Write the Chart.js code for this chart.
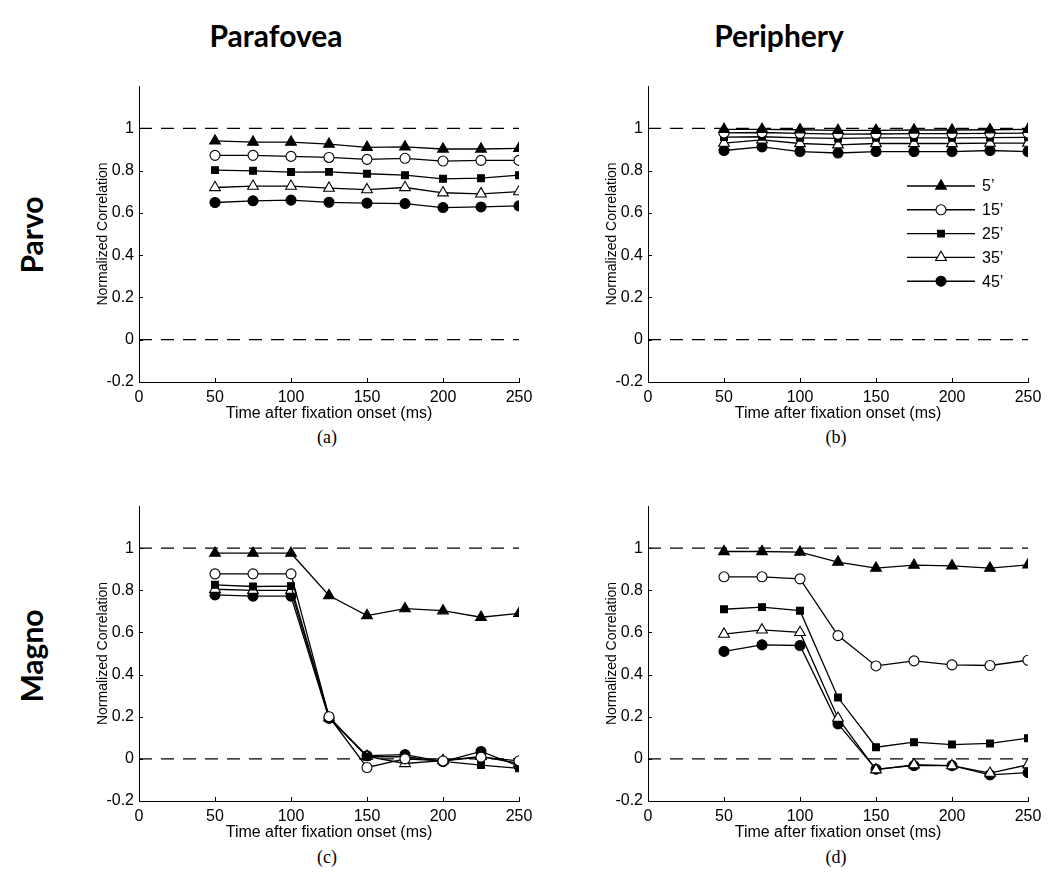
<!DOCTYPE html>
<html><head><meta charset="utf-8">
<script src="https://cdn.jsdelivr.net/npm/chart.js@4.4.1/dist/chart.umd.min.js"></script>
<style>
body{margin:0;background:#fff;width:1049px;height:884px;position:relative;overflow:hidden;font-family:"Liberation Sans",Arial,sans-serif;color:#000}
canvas{position:absolute}
.c{position:absolute;transform:translate(-50%,-50%);white-space:nowrap;line-height:1}
.r{position:absolute;transform:translate(-50%,-50%) rotate(-90deg);white-space:nowrap;line-height:1}
.head{font-family:Lato,"Noto Sans",sans-serif;font-weight:700;font-size:30px}
.cap{font-family:"Liberation Serif","DejaVu Serif",serif;font-size:18px}
</style></head><body>
<div class="c head" style="left:276px;top:35px">Parafovea</div>
<div class="c head" style="left:779px;top:35px">Periphery</div>
<div class="r head" style="left:31px;top:235px">Parvo</div>
<div class="r head" style="left:31px;top:656px">Magno</div>
<div class="c cap" style="left:327px;top:437px">(a)</div>
<div class="c cap" style="left:836px;top:437px">(b)</div>
<div class="c cap" style="left:327px;top:857px">(c)</div>
<div class="c cap" style="left:836px;top:857px">(d)</div>
<canvas id="pa" width="451" height="357" style="left:89px;top:70px"></canvas>
<canvas id="pb" width="451" height="357" style="left:598px;top:70px"></canvas>
<canvas id="pc" width="451" height="356" style="left:89px;top:490px"></canvas>
<canvas id="pd" width="451" height="356" style="left:598px;top:490px"></canvas>
<script>
// ---- data ----
const times = [50,75,100,125,150,175,200,225,250];
const seriesNames = ["5\u2019","15\u2019","25\u2019","35\u2019","45\u2019"];
const xTicks = [0,50,100,150,200,250];
const yTicks = [-0.2,0,0.2,0.4,0.6,0.8,1];
const refX = [0,250];
const refLevels = [1,0];

// (a) Parvo / Parafovea
const parvoPara5  = [0.94,0.935,0.935,0.925,0.91,0.912,0.902,0.902,0.905];
const parvoPara15 = [0.872,0.872,0.867,0.862,0.853,0.858,0.845,0.848,0.848];
const parvoPara25 = [0.802,0.799,0.793,0.794,0.785,0.778,0.761,0.764,0.778];
const parvoPara35 = [0.72,0.726,0.726,0.717,0.71,0.72,0.695,0.69,0.70];
const parvoPara45 = [0.649,0.657,0.66,0.65,0.646,0.644,0.625,0.628,0.633];
// (b) Parvo / Periphery
const parvoPeri5  = [0.995,0.995,0.993,0.99,0.99,0.992,0.992,0.993,0.995];
const parvoPeri15 = [0.978,0.98,0.976,0.972,0.973,0.975,0.975,0.976,0.977];
const parvoPeri25 = [0.958,0.96,0.955,0.952,0.955,0.955,0.955,0.956,0.957];
const parvoPeri35 = [0.93,0.945,0.928,0.922,0.928,0.928,0.928,0.93,0.93];
const parvoPeri45 = [0.895,0.912,0.89,0.883,0.89,0.89,0.89,0.895,0.89];
// (c) Magno / Parafovea
const magnoPara5  = [0.976,0.976,0.976,0.775,0.68,0.713,0.703,0.672,0.69];
const magnoPara15 = [0.878,0.878,0.878,0.2,-0.041,0.0,-0.01,0.008,-0.01];
const magnoPara25 = [0.826,0.818,0.82,0.2,0.01,0.01,-0.012,-0.03,-0.045];
const magnoPara35 = [0.805,0.80,0.80,0.195,0.012,-0.022,-0.008,0.012,-0.022];
const magnoPara45 = [0.778,0.772,0.772,0.192,0.015,0.02,-0.013,0.035,-0.035];
// (d) Magno / Periphery
const magnoPeri5  = [0.984,0.984,0.981,0.934,0.905,0.919,0.916,0.905,0.921];
const magnoPeri15 = [0.864,0.864,0.854,0.585,0.441,0.465,0.446,0.443,0.468];
const magnoPeri25 = [0.71,0.72,0.703,0.291,0.055,0.079,0.068,0.073,0.098];
const magnoPeri35 = [0.592,0.612,0.60,0.193,-0.052,-0.028,-0.032,-0.068,-0.028];
const magnoPeri45 = [0.51,0.541,0.538,0.166,-0.049,-0.032,-0.032,-0.076,-0.065];

// ---- styles ----
const markerStyles = [
  {pointStyle:'triangle', fill:'#000', r:6.2},
  {pointStyle:'circle',   fill:'#fff', r:5},
  {pointStyle:'rect',     fill:'#000', r:4.8},
  {pointStyle:'triangle', fill:'#fff', r:6.2},
  {pointStyle:'circle',   fill:'#000', r:5}
];

function drawMarker(ctx, st, x, y){
  ctx.save();
  ctx.fillStyle = st.fill; ctx.strokeStyle = '#000'; ctx.lineWidth = 1.1;
  if (Chart.helpers && Chart.helpers.drawPoint) {
    Chart.helpers.drawPoint(ctx, {pointStyle: st.pointStyle, radius: st.r, rotation: 0, borderWidth: 1.1}, x, y);
  } else {
    ctx.beginPath();
    if (st.pointStyle === 'circle') ctx.arc(x, y, st.r, 0, Math.PI*2);
    else if (st.pointStyle === 'rect') { const s = st.r/Math.SQRT2; ctx.rect(x-s, y-s, 2*s, 2*s); }
    else { for (let i=0;i<3;i++){ const a = i*2*Math.PI/3; const px = x+Math.sin(a)*st.r, py = y-Math.cos(a)*st.r; i?ctx.lineTo(px,py):ctx.moveTo(px,py);} ctx.closePath(); }
    ctx.fill(); ctx.stroke();
  }
  ctx.restore();
}

const inwardTicks = {
  id:'inwardTicks',
  afterDraw(chart){
    const {ctx, chartArea:a, scales:{x, y}} = chart;
    ctx.save(); ctx.strokeStyle = '#000'; ctx.lineWidth = 1;
    ctx.beginPath();
    yTicks.forEach(v => { const py = Math.round(y.getPixelForValue(v)) + 0.5; ctx.moveTo(a.left, py); ctx.lineTo(a.left + 4, py); });
    xTicks.forEach(v => { const px = Math.round(x.getPixelForValue(v)) + 0.5; ctx.moveTo(px, a.bottom); ctx.lineTo(px, a.bottom - 4); });
    ctx.stroke(); ctx.restore();
  }
};

const lineLegend = {
  id:'lineLegend',
  afterDraw(chart, args, opts){
    if (!opts.show) return;
    const {ctx, chartArea:a} = chart;
    const x0 = a.right - 121, x1 = a.right - 53, xm = a.right - 87, xt = a.right - 46;
    const y0 = a.top + 100, dy = 23.8;
    ctx.save();
    seriesNames.forEach((name, i) => {
      const yy = y0 + i*dy;
      ctx.strokeStyle = '#000'; ctx.lineWidth = 1.4;
      ctx.beginPath(); ctx.moveTo(x0, yy); ctx.lineTo(x1, yy); ctx.stroke();
      drawMarker(ctx, markerStyles[i], xm, yy);
      ctx.fillStyle = '#000'; ctx.font = '16px "Liberation Sans", Arial, sans-serif';
      ctx.textAlign = 'left'; ctx.textBaseline = 'middle';
      ctx.fillText(name, xt, yy + 1);
    });
    ctx.restore();
  }
};

function makeChart(id, series, showLegend){
  const datasets = refLevels.map(l => ({
    data: refX.map(x => ({x, y: l})),
    borderColor:'#000', borderWidth:1.3, borderDash:[13,9], pointRadius:0, order:10
  }));
  series.forEach((vals, i) => {
    const st = markerStyles[i];
    datasets.push({
      label: seriesNames[i],
      data: times.map((t, k) => ({x: t, y: vals[k]})),
      borderColor:'#000', borderWidth:1.3,
      pointStyle: st.pointStyle, pointRadius: st.r,
      pointBackgroundColor: st.fill, pointBorderColor:'#000', pointBorderWidth:1.1,
      order: i
    });
  });
  return new Chart(document.getElementById(id), {
    type:'line',
    data:{datasets},
    plugins:[inwardTicks, lineLegend],
    options:{
      responsive:false, animation:false, devicePixelRatio:1,
      layout:{padding:{left:0, top:16, right:21, bottom:0}},
      plugins:{legend:{display:false}, tooltip:{enabled:false}, lineLegend:{show:showLegend}},
      elements:{line:{tension:0}},
      scales:{
        x:{
          type:'linear', min:0, max:250,
          afterBuildTicks: s => { s.ticks = xTicks.map(v => ({value:v})); },
          afterFit: s => { s.height = 45; },
          ticks:{color:'#000', font:{size:16, family:'"Liberation Sans", Arial, sans-serif'}, padding:6, maxRotation:0, autoSkip:false},
          grid:{display:true, drawOnChartArea:false, drawTicks:false},
          border:{display:true, color:'#000', width:1},
          title:{display:true, text:'Time after fixation onset (ms)', color:'#000', font:{size:16, family:'"Liberation Sans", Arial, sans-serif'}, padding:{top:0, bottom:4}}
        },
        y:{
          type:'linear', min:-0.2, max:1.2,
          afterBuildTicks: s => { s.ticks = yTicks.map(v => ({value:v})); },
          afterFit: s => { s.width = 50; },
          ticks:{color:'#000', font:{size:16, family:'"Liberation Sans", Arial, sans-serif'}, padding:5, autoSkip:false,
                 callback: v => String(Math.round(v*10)/10)},
          grid:{display:true, drawOnChartArea:false, drawTicks:false},
          border:{display:true, color:'#000', width:1},
          title:{display:true, text:'Normalized Correlation', color:'#000', font:{size:14, family:'"Liberation Sans", Arial, sans-serif'}, padding:{top:6, bottom:0}}
        }
      }
    }
  });
}

makeChart('pa', [parvoPara5, parvoPara15, parvoPara25, parvoPara35, parvoPara45], false);
makeChart('pb', [parvoPeri5, parvoPeri15, parvoPeri25, parvoPeri35, parvoPeri45], true);
makeChart('pc', [magnoPara5, magnoPara15, magnoPara25, magnoPara35, magnoPara45], false);
makeChart('pd', [magnoPeri5, magnoPeri15, magnoPeri25, magnoPeri35, magnoPeri45], false);
</script>
</body></html>
